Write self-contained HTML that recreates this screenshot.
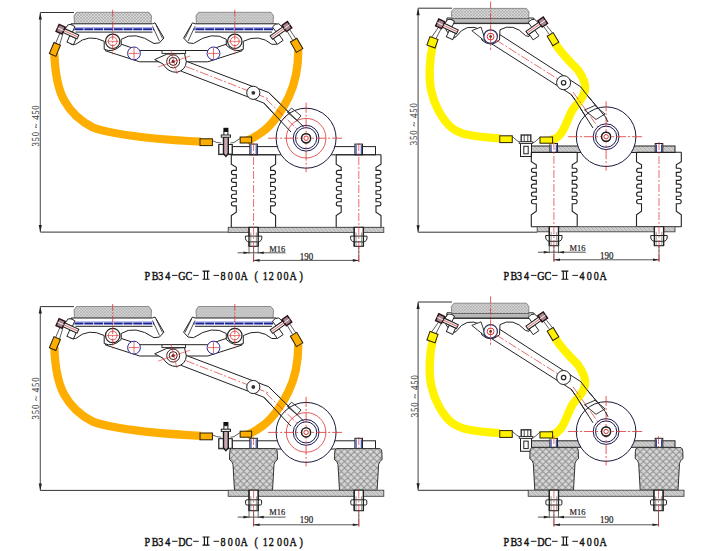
<!DOCTYPE html>
<html><head><meta charset="utf-8"><style>
html,body{margin:0;padding:0;background:#fff;}
svg{display:block;}
</style></head><body>
<svg width="703" height="551" viewBox="0 0 703 551">
<defs>
<pattern id="xh" width="3" height="3" patternUnits="userSpaceOnUse">
<rect width="3" height="3" fill="#d6d6d6"/>
<path d="M0,3 L3,0 M0,0 L3,3" stroke="#9c9c9c" stroke-width="0.5"/>
</pattern>
<pattern id="xh2" width="6.5" height="6.5" patternUnits="userSpaceOnUse">
<rect width="6.5" height="6.5" fill="#d6d6d6"/>
<path d="M0,6.5 L6.5,0 M0,0 L6.5,6.5 M-1,1 L1,-1 M5.5,7.5 L7.5,5.5" stroke="#8e8e8e" stroke-width="1"/>
</pattern>
<pattern id="bh" width="4" height="4" patternUnits="userSpaceOnUse">
<rect width="4" height="4" fill="#cdcdcd"/>
<path d="M0,0 L4,4" stroke="#a0a0a0" stroke-width="0.6"/>
</pattern>
</defs>
<rect width="703" height="551" fill="#fff"/>
<g id="tlu"><rect x="232.2" y="146.6" width="143.3" height="8.2" fill="#fff" stroke="#222" stroke-width="1"/>
<rect x="249.8" y="144.1" width="7.6" height="10.7" fill="#fff" stroke="#222" stroke-width="1"/>
<line x1="251" y1="145.1" x2="251" y2="154.8" stroke="#1C2CA8" stroke-width="1"/>
<line x1="256.2" y1="145.1" x2="256.2" y2="154.8" stroke="#1C2CA8" stroke-width="1"/>
<rect x="354.9" y="144.1" width="7.6" height="10.7" fill="#fff" stroke="#222" stroke-width="1"/>
<line x1="356.1" y1="145.1" x2="356.1" y2="154.8" stroke="#1C2CA8" stroke-width="1"/>
<line x1="361.3" y1="145.1" x2="361.3" y2="154.8" stroke="#1C2CA8" stroke-width="1"/>
<polygon points="105.5,50.8 139.7,61.8 207.8,61.8 242,50.8 242,44 226.3,44.2 207.8,50.5 139.7,50.5 121.2,44.2 105.5,44" fill="#fff" stroke="#222" stroke-width="1"/>
<rect x="162" y="50.5" width="23.6" height="2.9" fill="#fff" stroke="#222" stroke-width="0.9"/>
<polygon points="181.2,71.2 263.8,103 291,132 300,131 303.6,126.8 268.6,92.5 186.3,61.3" fill="#fff" stroke="#222" stroke-width="1"/>
<path d="M74.5,25 L74,15.8 L76.5,12.3 L149,12.3 L151.5,15.8 L151,25 Z" fill="url(#xh)" stroke="#777" stroke-width="0.8"/>
<path d="M71,23.8 152.5,23.8 155,22.8 163.9,38 159.5,42.8 154,43.5 Q134.7,30.3 121.2,39.3 L121.2,45.3 Q112.7,53.3 104.2,49.3 L104.2,41.3 Q88.7,33.3 75.7,44.3 L71,44.3 Z" fill="#fff" stroke="#222" stroke-width="1"/>
<path d="M152.5,26.3 L159.5,41.3 M156,24.8 L162.5,38.3" stroke="#222" stroke-width="0.8" fill="none"/>
<line x1="73" y1="27.6" x2="153.5" y2="27.6" stroke="#7b84d8" stroke-width="0.7"/>
<line x1="74.5" y1="29.3" x2="154" y2="29.3" stroke="#1a2298" stroke-width="1.9" stroke-dasharray="9 0.8"/>
<line x1="75.5" y1="32.1" x2="152.5" y2="32.1" stroke="#222" stroke-width="1"/>
<circle cx="112.7" cy="41.3" r="7.2" fill="#fff" stroke="#222" stroke-width="1.2"/>
<circle cx="112.7" cy="41.3" r="4.4" fill="none" stroke="#E03030" stroke-width="0.8"/>
<line x1="106.7" y1="41.3" x2="118.7" y2="41.3" stroke="#E03030" stroke-width="0.6"/>
<line x1="112.7" y1="9.8" x2="112.7" y2="55.3" stroke="#E03030" stroke-width="0.8" stroke-dasharray="7 1.5 1.5 1.5"/>
<g transform="translate(347.5,0) scale(-1,1)"><path d="M74.5,25 L74,15.8 L76.5,12.3 L149,12.3 L151.5,15.8 L151,25 Z" fill="url(#xh)" stroke="#777" stroke-width="0.8"/>
<path d="M71,23.8 152.5,23.8 155,22.8 163.9,38 159.5,42.8 154,43.5 Q134.7,30.3 121.2,39.3 L121.2,45.3 Q112.7,53.3 104.2,49.3 L104.2,41.3 Q88.7,33.3 75.7,44.3 L71,44.3 Z" fill="#fff" stroke="#222" stroke-width="1"/>
<path d="M152.5,26.3 L159.5,41.3 M156,24.8 L162.5,38.3" stroke="#222" stroke-width="0.8" fill="none"/>
<line x1="73" y1="27.6" x2="153.5" y2="27.6" stroke="#7b84d8" stroke-width="0.7"/>
<line x1="74.5" y1="29.3" x2="154" y2="29.3" stroke="#1a2298" stroke-width="1.9" stroke-dasharray="9 0.8"/>
<line x1="75.5" y1="32.1" x2="152.5" y2="32.1" stroke="#222" stroke-width="1"/>
<circle cx="112.7" cy="41.3" r="7.2" fill="#fff" stroke="#222" stroke-width="1.2"/>
<circle cx="112.7" cy="41.3" r="4.4" fill="none" stroke="#E03030" stroke-width="0.8"/>
<line x1="106.7" y1="41.3" x2="118.7" y2="41.3" stroke="#E03030" stroke-width="0.6"/>
<line x1="112.7" y1="9.8" x2="112.7" y2="55.3" stroke="#E03030" stroke-width="0.8" stroke-dasharray="7 1.5 1.5 1.5"/></g>
<circle cx="134" cy="53.4" r="6.4" fill="#fff" stroke="#2a2a9a" stroke-width="1"/>
<path d="M128.5,53.4 h11 M134,47.5 v11.8" stroke="#E03030" stroke-width="0.7"/>
<circle cx="213.5" cy="53.4" r="6.4" fill="#fff" stroke="#2a2a9a" stroke-width="1"/>
<path d="M208.0,53.4 h11 M213.5,47.5 v11.8" stroke="#E03030" stroke-width="0.7"/>
<g transform="translate(60.6,29.2) rotate(24)"><path d="M4,-2.1 L5,-7 Q8,-9.5 12,-8 L12,-2.1 Z" fill="#fff" stroke="#222" stroke-width="0.9"/><rect x="11" y="2.1" width="7" height="7" fill="#fff" stroke="#222" stroke-width="0.9"/><rect x="3" y="-2.1" width="16" height="4.2" fill="#f4eef0" stroke="#222" stroke-width="1"/><line x1="2" y1="0" x2="19" y2="0" stroke="#E03030" stroke-width="0.6"/><rect x="-3.3" y="-3.8" width="6.6" height="7.6" fill="#a88890" stroke="#2a1015" stroke-width="1.4"/><line x1="-3.3" y1="0" x2="3.3" y2="0" stroke="#fff" stroke-width="0.8"/></g>
<g transform="translate(286.9,26.6) rotate(145) scale(1,-1)"><path d="M4,-2.1 L5,-7 Q8,-9.5 12,-8 L12,-2.1 Z" fill="#fff" stroke="#222" stroke-width="0.9"/><rect x="11" y="2.1" width="7" height="7" fill="#fff" stroke="#222" stroke-width="0.9"/><rect x="3" y="-2.1" width="16" height="4.2" fill="#f4eef0" stroke="#222" stroke-width="1"/><line x1="2" y1="0" x2="19" y2="0" stroke="#E03030" stroke-width="0.6"/><rect x="-3.3" y="-3.8" width="6.6" height="7.6" fill="#a88890" stroke="#2a1015" stroke-width="1.4"/><line x1="-3.3" y1="0" x2="3.3" y2="0" stroke="#fff" stroke-width="0.8"/></g>
<path d="M60,33 L55.5,43.5 M63,33.5 L59.5,45" stroke="#333" stroke-width="0.8" fill="none"/>
<path d="M287,31 L292.5,40 M290,30 L296,39" stroke="#333" stroke-width="0.8" fill="none"/>
<path d="M54.3,53 C55,72 57.5,88 64,100 C70,111 80,121 93,127.5 C103,131.5 120,134.5 145,137.5 C165,139.5 185,141 201,141.6" fill="none" stroke="#FDAE00" stroke-width="8.3"/>
<path d="M298.3,50 C298.3,68 294,86 288.6,97.2 C283,109 273,124 262.9,131.5 C258,135 253,138.5 247,140.5" fill="none" stroke="#FDAE00" stroke-width="8.3"/>
<rect x="-3.5" y="-6" width="7" height="12" transform="translate(54.9,49.4) rotate(22.5)" fill="#FDAE00" stroke="#2a2000" stroke-width="1"/>
<rect x="-3.75" y="-6" width="7.5" height="12" transform="translate(296.6,45.3) rotate(-30)" fill="#FDAE00" stroke="#2a2000" stroke-width="1"/>
<path d="M154.7,59.6 L166.7,54.2 L184.5,53.5 L186.3,61.5 Q186,70 177,72.3 Q168,72.5 163,64 Z" fill="#fff" stroke="#222" stroke-width="1"/>
<circle cx="173.2" cy="61.4" r="6.5" fill="#fff" stroke="#402020" stroke-width="1"/>
<circle cx="173.2" cy="61.4" r="4" fill="none" stroke="#402020" stroke-width="1"/>
<circle cx="173.2" cy="61.4" r="1.6" fill="#402020"/>
<path d="M158,67 L190,56 M171,50 L177,74" stroke="#E03030" stroke-width="0.6"/>
<line x1="186" y1="66.5" x2="268" y2="98.5" stroke="#E03030" stroke-width="0.7" stroke-dasharray="9 2 2 2"/>
<circle cx="306.1" cy="138.2" r="30" fill="#fff" stroke="#1a1a3a" stroke-width="1"/>
<circle cx="306.1" cy="138.2" r="19.8" fill="none" stroke="#E03030" stroke-width="0.8"/>
<circle cx="306.1" cy="138.2" r="12.9" fill="none" stroke="#1a1a50" stroke-width="1"/>
<circle cx="306.1" cy="138.2" r="10.6" fill="none" stroke="#1a1a50" stroke-width="1"/>
<circle cx="306.1" cy="138.2" r="4.5" fill="#fff" stroke="#222" stroke-width="1.4"/>
<circle cx="306.1" cy="138.2" r="2.2" fill="none" stroke="#E03030" stroke-width="1"/>
<line x1="268.1" y1="138.2" x2="342.1" y2="138.2" stroke="#E03030" stroke-width="0.8" stroke-dasharray="10 2 2 2"/>
<line x1="306.1" y1="102.7" x2="306.1" y2="172.2" stroke="#E03030" stroke-width="0.8" stroke-dasharray="10 2 2 2"/>
<polyline points="263.8,103 291,132" fill="none" stroke="#222" stroke-width="1"/>
<polyline points="268.6,92.5 303.6,126.8" fill="none" stroke="#222" stroke-width="1"/>
<line x1="266" y1="99" x2="298" y2="130" stroke="#E03030" stroke-width="0.7" stroke-dasharray="9 2 2 2"/>
<polygon points="291.5,108 301,115.8 297,120.5 287.5,112.5" fill="none" stroke="#222" stroke-width="0.9"/>
<circle cx="306.1" cy="138.2" r="4.5" fill="#fff" stroke="#222" stroke-width="1.4"/>
<circle cx="306.1" cy="138.2" r="2.2" fill="none" stroke="#E03030" stroke-width="1"/>
<circle cx="253.3" cy="92.8" r="6.6" fill="#fff" stroke="#222" stroke-width="1"/>
<circle cx="253.3" cy="92.8" r="1.9" fill="#333"/>
<rect x="218.8" y="144.8" width="13.4" height="9.8" fill="#fff" stroke="#222" stroke-width="1"/>
<rect x="218.9" y="144.5" width="13.2" height="9.6" fill="#fff" stroke="#222" stroke-width="1"/>
<path d="M223.5,137 228.3,137 228.3,153.5 225.9,156.5 223.5,153.5 Z" fill="#c9a9b0" stroke="#1a1a1a" stroke-width="1.4"/>
<rect x="223.9" y="131.5" width="4" height="4" fill="#fff" stroke="#222" stroke-width="1"/>
<rect x="223.4" y="127.8" width="5" height="3.6" fill="#111"/>
<rect x="221.3" y="135" width="9.2" height="2.2" fill="#fff" stroke="#222" stroke-width="1"/>
<path d="M211.9,140.5 216.9,142.5 221.4,143 M239.9,138.5 233.9,142.5 230.4,143" stroke="#333" stroke-width="0.8" fill="none"/>
<rect x="-6.2" y="-3.4" width="12.4" height="6.8" transform="translate(206.2,142.2) rotate(0)" fill="#FDAE00" stroke="#2a2000" stroke-width="1"/>
<rect x="-5.75" y="-3" width="11.5" height="6" transform="translate(245.9,140) rotate(0)" fill="#FDAE00" stroke="#2a2000" stroke-width="1"/></g>
<line x1="40.3" y1="12.5" x2="74" y2="12.5" stroke="#333" stroke-width="1"/>
<line x1="40.3" y1="232.1" x2="228.2" y2="232.1" stroke="#333" stroke-width="1"/>
<line x1="40.3" y1="12.5" x2="40.3" y2="232.1" stroke="#555" stroke-width="1.1"/>
<path d="M40.3,12.5 l-1.6,7 l3.2,0 Z M40.3,232.1 l-1.6,-7 l3.2,0 Z" fill="#222"/>
<text transform="translate(39.1,146.6) rotate(-90) scale(0.8,1)" x="0" y="0" font-size="10.8" font-family="Liberation Serif, serif" fill="#444" stroke="#444" stroke-width="0.15" textLength="51.62" lengthAdjust="spacing">350 ~ 450</text>
<path d="M231.3,154.8 L231.3,164.3 L236.3,167.3 L236.3,170.4 L233.2,170.4 Q231.4,170.4 231.4,172.5 Q231.4,174.6 233.2,174.6 L236.3,174.6 L236.3,178.2 L233.2,178.2 Q231.4,178.2 231.4,180.3 Q231.4,182.4 233.2,182.4 L236.3,182.4 L236.3,186.5 L233.2,186.5 Q231.4,186.5 231.4,188.6 Q231.4,190.7 233.2,190.7 L236.3,190.7 L236.3,194.3 L233.2,194.3 Q231.4,194.3 231.4,196.4 Q231.4,198.5 233.2,198.5 L236.3,198.5 L236.3,201.7 L233.2,201.7 Q231.4,201.7 231.4,203.8 Q231.4,205.9 233.2,205.9 L236.3,205.9 L236.3,212.1 L231.3,215.6 L231.3,227.6" fill="none" stroke="#222" stroke-width="1.1"/><path d="M275.6,154.8 L275.6,164.3 L270.6,167.3 L270.6,170.4 L273.7,170.4 Q275.5,170.4 275.5,172.5 Q275.5,174.6 273.7,174.6 L270.6,174.6 L270.6,178.2 L273.7,178.2 Q275.5,178.2 275.5,180.3 Q275.5,182.4 273.7,182.4 L270.6,182.4 L270.6,186.5 L273.7,186.5 Q275.5,186.5 275.5,188.6 Q275.5,190.7 273.7,190.7 L270.6,190.7 L270.6,194.3 L273.7,194.3 Q275.5,194.3 275.5,196.4 Q275.5,198.5 273.7,198.5 L270.6,198.5 L270.6,201.7 L273.7,201.7 Q275.5,201.7 275.5,203.8 Q275.5,205.9 273.7,205.9 L270.6,205.9 L270.6,212.1 L275.6,215.6 L275.6,227.6" fill="none" stroke="#222" stroke-width="1.1"/><path d="M231.3,154.8 L275.6,154.8 M231.3,227.6 L275.6,227.6" fill="none" stroke="#222" stroke-width="1.1"/>
<path d="M336.2,154.8 L336.2,164.3 L341.2,167.3 L341.2,170.4 L338.1,170.4 Q336.3,170.4 336.3,172.5 Q336.3,174.6 338.1,174.6 L341.2,174.6 L341.2,178.2 L338.1,178.2 Q336.3,178.2 336.3,180.3 Q336.3,182.4 338.1,182.4 L341.2,182.4 L341.2,186.5 L338.1,186.5 Q336.3,186.5 336.3,188.6 Q336.3,190.7 338.1,190.7 L341.2,190.7 L341.2,194.3 L338.1,194.3 Q336.3,194.3 336.3,196.4 Q336.3,198.5 338.1,198.5 L341.2,198.5 L341.2,201.7 L338.1,201.7 Q336.3,201.7 336.3,203.8 Q336.3,205.9 338.1,205.9 L341.2,205.9 L341.2,212.1 L336.2,215.6 L336.2,227.6" fill="none" stroke="#222" stroke-width="1.1"/><path d="M381,154.8 L381,164.3 L376,167.3 L376,170.4 L379.1,170.4 Q380.9,170.4 380.9,172.5 Q380.9,174.6 379.1,174.6 L376,174.6 L376,178.2 L379.1,178.2 Q380.9,178.2 380.9,180.3 Q380.9,182.4 379.1,182.4 L376,182.4 L376,186.5 L379.1,186.5 Q380.9,186.5 380.9,188.6 Q380.9,190.7 379.1,190.7 L376,190.7 L376,194.3 L379.1,194.3 Q380.9,194.3 380.9,196.4 Q380.9,198.5 379.1,198.5 L376,198.5 L376,201.7 L379.1,201.7 Q380.9,201.7 380.9,203.8 Q380.9,205.9 379.1,205.9 L376,205.9 L376,212.1 L381,215.6 L381,227.6" fill="none" stroke="#222" stroke-width="1.1"/><path d="M336.2,154.8 L381,154.8 M336.2,227.6 L381,227.6" fill="none" stroke="#222" stroke-width="1.1"/>
<rect x="228.2" y="227.3" width="155.6" height="5.1" fill="url(#bh)" stroke="#444" stroke-width="0.9"/>
<rect x="249" y="227.3" width="9.2" height="19" fill="#fff" stroke="#222" stroke-width="1.1"/>
<path d="M245.4,236.1 L261.8,236.1 Q262.4,241.9 257.6,241.9 L249.6,241.9 Q244.8,241.9 245.4,236.1 Z" fill="#fff" stroke="#222" stroke-width="1"/>
<line x1="249" y1="227.3" x2="249" y2="246.3" stroke="#222" stroke-width="1.3"/>
<line x1="258.2" y1="227.3" x2="258.2" y2="246.3" stroke="#222" stroke-width="1.3"/>
<line x1="250.8" y1="232.4" x2="250.8" y2="246.3" stroke="#555" stroke-width="0.6"/>
<line x1="256.4" y1="232.4" x2="256.4" y2="246.3" stroke="#555" stroke-width="0.6"/>
<rect x="354.2" y="227.3" width="9.2" height="19" fill="#fff" stroke="#222" stroke-width="1.1"/>
<path d="M350.6,236.1 L367,236.1 Q367.6,241.9 362.8,241.9 L354.8,241.9 Q350,241.9 350.6,236.1 Z" fill="#fff" stroke="#222" stroke-width="1"/>
<line x1="354.2" y1="227.3" x2="354.2" y2="246.3" stroke="#222" stroke-width="1.3"/>
<line x1="363.4" y1="227.3" x2="363.4" y2="246.3" stroke="#222" stroke-width="1.3"/>
<line x1="356" y1="232.4" x2="356" y2="246.3" stroke="#555" stroke-width="0.6"/>
<line x1="361.6" y1="232.4" x2="361.6" y2="246.3" stroke="#555" stroke-width="0.6"/>
<line x1="237.6" y1="252.8" x2="285.6" y2="252.8" stroke="#444" stroke-width="0.9"/>
<line x1="249" y1="246.3" x2="249" y2="253.8" stroke="#444" stroke-width="0.8"/>
<line x1="258.2" y1="246.3" x2="258.2" y2="253.8" stroke="#444" stroke-width="0.8"/>
<path d="M249,252.8 l-5.5,-1.3 l0,2.6 Z M258.2,252.8 l5.5,-1.3 l0,2.6 Z" fill="#222"/>
<g transform="translate(269.2,251.5) scale(0.92,1)"><text x="0" y="0" font-size="9.2" font-family="Liberation Serif, serif" fill="#222" stroke="#222" stroke-width="0.2" >M16</text></g>
<line x1="253.6" y1="246.3" x2="253.6" y2="261.9" stroke="#444" stroke-width="0.8"/>
<line x1="358.8" y1="246.3" x2="358.8" y2="261.9" stroke="#444" stroke-width="0.8"/>
<line x1="253.6" y1="260.4" x2="358.8" y2="260.4" stroke="#444" stroke-width="0.9"/>
<path d="M253.6,260.4 l6,-1.3 l0,2.6 Z M358.8,260.4 l-6,-1.3 l0,2.6 Z" fill="#222"/>
<g transform="translate(299.8,259.8) scale(0.95,1)"><text x="0" y="0" font-size="9.4" font-family="Liberation Serif, serif" fill="#222" stroke="#222" stroke-width="0.2" >190</text></g>
<line x1="172" y1="275.4" x2="177.6" y2="275.4" stroke="#1a1a1a" stroke-width="1"/>
<line x1="193.1" y1="275.4" x2="198.7" y2="275.4" stroke="#1a1a1a" stroke-width="1"/>
<path d="M202.5,271.1 h7 M202.5,279.2 h7 M204.4,271.1 v8.1 M207.6,271.1 v8.1" stroke="#111" stroke-width="1.15" fill="none"/>
<line x1="213.5" y1="275.4" x2="219.1" y2="275.4" stroke="#1a1a1a" stroke-width="1"/>
<g transform="translate(0,279.7) scale(0.8,1)"><text x="180.62 189.62 197.75 206.5 222.88 231.88 275.62 284.75 293.62 300.75 318.12 328.37 335.87 346.12 354.38 361.88 374.25" y="0" font-size="12.6" font-family="Liberation Serif, serif" fill="#111" stroke="#111" stroke-width="0.45">PB34GC800A(1200A)</text></g>
<line x1="253.6" y1="143" x2="253.6" y2="262" stroke="#E03030" stroke-width="0.7" stroke-dasharray="8 2 2 2"/>
<line x1="358.8" y1="143" x2="358.8" y2="262" stroke="#E03030" stroke-width="0.7" stroke-dasharray="8 2 2 2"/>
<use href="#tlu" transform="translate(0,294.2)"/>
<line x1="40.3" y1="306.6" x2="74" y2="306.6" stroke="#333" stroke-width="1"/>
<line x1="40.3" y1="490.4" x2="228.2" y2="490.4" stroke="#333" stroke-width="1"/>
<line x1="40.3" y1="306.6" x2="40.3" y2="490.4" stroke="#555" stroke-width="1.1"/>
<path d="M40.3,306.6 l-1.6,7 l3.2,0 Z M40.3,490.4 l-1.6,-7 l3.2,0 Z" fill="#222"/>
<text transform="translate(38.8,419.4) rotate(-90) scale(0.8,1)" x="0" y="0" font-size="10.8" font-family="Liberation Serif, serif" fill="#444" stroke="#444" stroke-width="0.15" textLength="52.5" lengthAdjust="spacing">350 ~ 450</text>
<line x1="253.6" y1="437" x2="253.6" y2="450" stroke="#E03030" stroke-width="0.7" stroke-dasharray="8 2 2 2"/>
<line x1="358.8" y1="437" x2="358.8" y2="450" stroke="#E03030" stroke-width="0.7" stroke-dasharray="8 2 2 2"/>
<path d="M231.5,448.6 L275.5,448.6 Q277.5,449.6 277.3,452.6 L277.5,459.6 Q274.5,461.1 274,464.6 L272.5,490.4 L234.5,490.4 L233,464.6 Q232.5,461.1 229.5,459.6 L229.7,452.6 Q229.5,449.6 231.5,448.6 Z" fill="url(#xh2)" stroke="#333" stroke-width="1"/>
<path d="M336.5,448.6 L380.1,448.6 Q382.1,449.6 381.90000000000003,452.6 L382.1,459.6 Q379.1,461.1 378.6,464.6 L377.1,490.4 L339.5,490.4 L338,464.6 Q337.5,461.1 334.5,459.6 L334.7,452.6 Q334.5,449.6 336.5,448.6 Z" fill="url(#xh2)" stroke="#333" stroke-width="1"/>
<rect x="228.2" y="490.2" width="155.6" height="6.1" fill="url(#bh)" stroke="#444" stroke-width="0.9"/>
<rect x="249" y="490.2" width="9.2" height="20.5" fill="#fff" stroke="#222" stroke-width="1.1"/>
<rect x="245.6" y="499.8" width="16" height="5.2" rx="1.2" fill="#fff" stroke="#222" stroke-width="1"/>
<line x1="249" y1="490.2" x2="249" y2="510.7" stroke="#222" stroke-width="1.3"/>
<line x1="258.2" y1="490.2" x2="258.2" y2="510.7" stroke="#222" stroke-width="1.3"/>
<line x1="250.8" y1="496.3" x2="250.8" y2="510.7" stroke="#555" stroke-width="0.6"/>
<line x1="256.4" y1="496.3" x2="256.4" y2="510.7" stroke="#555" stroke-width="0.6"/>
<rect x="354.2" y="490.2" width="9.2" height="20.5" fill="#fff" stroke="#222" stroke-width="1.1"/>
<rect x="350.8" y="499.8" width="16" height="5.2" rx="1.2" fill="#fff" stroke="#222" stroke-width="1"/>
<line x1="354.2" y1="490.2" x2="354.2" y2="510.7" stroke="#222" stroke-width="1.3"/>
<line x1="363.4" y1="490.2" x2="363.4" y2="510.7" stroke="#222" stroke-width="1.3"/>
<line x1="356" y1="496.3" x2="356" y2="510.7" stroke="#555" stroke-width="0.6"/>
<line x1="361.6" y1="496.3" x2="361.6" y2="510.7" stroke="#555" stroke-width="0.6"/>
<line x1="237.6" y1="517.1" x2="285.6" y2="517.1" stroke="#444" stroke-width="0.9"/>
<line x1="249" y1="510.7" x2="249" y2="518.1" stroke="#444" stroke-width="0.8"/>
<line x1="258.2" y1="510.7" x2="258.2" y2="518.1" stroke="#444" stroke-width="0.8"/>
<path d="M249,517.1 l-5.5,-1.3 l0,2.6 Z M258.2,517.1 l5.5,-1.3 l0,2.6 Z" fill="#222"/>
<g transform="translate(269.2,515.2) scale(0.92,1)"><text x="0" y="0" font-size="9.2" font-family="Liberation Serif, serif" fill="#222" stroke="#222" stroke-width="0.2" >M16</text></g>
<line x1="253.6" y1="510.7" x2="253.6" y2="526.3" stroke="#444" stroke-width="0.8"/>
<line x1="358.8" y1="510.7" x2="358.8" y2="526.3" stroke="#444" stroke-width="0.8"/>
<line x1="253.6" y1="524.8" x2="358.8" y2="524.8" stroke="#444" stroke-width="0.9"/>
<path d="M253.6,524.8 l6,-1.3 l0,2.6 Z M358.8,524.8 l-6,-1.3 l0,2.6 Z" fill="#222"/>
<g transform="translate(299.8,523) scale(0.95,1)"><text x="0" y="0" font-size="9.4" font-family="Liberation Serif, serif" fill="#222" stroke="#222" stroke-width="0.2" >190</text></g>
<line x1="172" y1="541.3" x2="177.6" y2="541.3" stroke="#1a1a1a" stroke-width="1"/>
<line x1="193.1" y1="541.3" x2="198.7" y2="541.3" stroke="#1a1a1a" stroke-width="1"/>
<path d="M202.5,537 h7 M202.5,545.1 h7 M204.4,537 v8.1 M207.6,537 v8.1" stroke="#111" stroke-width="1.15" fill="none"/>
<line x1="213.5" y1="541.3" x2="219.1" y2="541.3" stroke="#1a1a1a" stroke-width="1"/>
<g transform="translate(0,545.6) scale(0.8,1)"><text x="180.62 189.62 197.75 206.5 222.88 231.88 275.62 284.75 293.62 300.75 318.12 328.37 335.87 346.12 354.38 361.88 374.25" y="0" font-size="12.6" font-family="Liberation Serif, serif" fill="#111" stroke="#111" stroke-width="0.45">PB34DC800A(1200A)</text></g>
<line x1="253.6" y1="490.5" x2="253.6" y2="527" stroke="#E03030" stroke-width="0.7" stroke-dasharray="8 2 2 2"/>
<line x1="358.8" y1="490.5" x2="358.8" y2="527" stroke="#E03030" stroke-width="0.7" stroke-dasharray="8 2 2 2"/>
<g id="tru"><rect x="529.6" y="146" width="145.4" height="6.5" fill="url(#bh)" stroke="#222" stroke-width="1"/>
<rect x="549.9" y="143.5" width="7.6" height="9" fill="#fff" stroke="#222" stroke-width="1"/>
<line x1="551.1" y1="144.5" x2="551.1" y2="152.5" stroke="#1C2CA8" stroke-width="1"/>
<line x1="556.3" y1="144.5" x2="556.3" y2="152.5" stroke="#1C2CA8" stroke-width="1"/>
<rect x="655.2" y="143.5" width="7.6" height="9" fill="#fff" stroke="#222" stroke-width="1"/>
<line x1="656.4" y1="144.5" x2="656.4" y2="152.5" stroke="#1C2CA8" stroke-width="1"/>
<line x1="661.6" y1="144.5" x2="661.6" y2="152.5" stroke="#1C2CA8" stroke-width="1"/>
<polygon points="493.5,30.5 580.7,86.8 586.6,94.5 605.4,116.9 608,122 600,130 593,128 588.9,121.6 575.4,100.4 571.2,94.5 487.7,41.3" fill="#fff" stroke="#222" stroke-width="1"/>
<path d="M447,18 533.5,18 536,24 529,36.5 525.6,35.7 Q513,22 500,29.8 L499.5,40 Q490.6,48 481.7,40 L481.2,29.8 Q466,22 456,36.8 L452.2,38.3 446,30 Z" fill="#fff" stroke="#222" stroke-width="1"/>
<path d="M451.8,18.7 451.3,11.9 453.8,8.4 526.5,8.4 529,11.9 528.5,18.7 Z" fill="url(#xh)" stroke="#777" stroke-width="0.8"/>
<rect x="451.3" y="18.700000000000003" width="77.7" height="4.2" fill="#b9b9b9" stroke="#555" stroke-width="0.7"/>
<line x1="450.3" y1="23.6" x2="530" y2="23.6" stroke="#222" stroke-width="1"/>
<polygon points="471.8,30.6 481,27 486,42" fill="#fff" stroke="#222" stroke-width="0.9"/>
<g transform="translate(440.2,23.8) rotate(25)"><path d="M4,-2.1 L5,-7 Q8,-9.5 12,-8 L12,-2.1 Z" fill="#fff" stroke="#222" stroke-width="0.9"/><rect x="11" y="2.1" width="7" height="7" fill="#fff" stroke="#222" stroke-width="0.9"/><rect x="3" y="-2.1" width="16" height="4.2" fill="#f4eef0" stroke="#222" stroke-width="1"/><line x1="2" y1="0" x2="19" y2="0" stroke="#E03030" stroke-width="0.6"/><rect x="-3.3" y="-3.8" width="6.6" height="7.6" fill="#a88890" stroke="#2a1015" stroke-width="1.4"/><line x1="-3.3" y1="0" x2="3.3" y2="0" stroke="#fff" stroke-width="0.8"/></g>
<g transform="translate(542.7,22.1) rotate(145) scale(1,-1)"><path d="M4,-2.1 L5,-7 Q8,-9.5 12,-8 L12,-2.1 Z" fill="#fff" stroke="#222" stroke-width="0.9"/><rect x="11" y="2.1" width="7" height="7" fill="#fff" stroke="#222" stroke-width="0.9"/><rect x="3" y="-2.1" width="16" height="4.2" fill="#f4eef0" stroke="#222" stroke-width="1"/><line x1="2" y1="0" x2="19" y2="0" stroke="#E03030" stroke-width="0.6"/><rect x="-3.3" y="-3.8" width="6.6" height="7.6" fill="#a88890" stroke="#2a1015" stroke-width="1.4"/><line x1="-3.3" y1="0" x2="3.3" y2="0" stroke="#fff" stroke-width="0.8"/></g>
<path d="M438,28 L431,38 M441,29 L435.5,39.5" stroke="#333" stroke-width="0.8" fill="none"/>
<path d="M544,27 L549,34 M546.5,25.5 L552.5,33" stroke="#333" stroke-width="0.8" fill="none"/>
<circle cx="490.6" cy="36.6" r="6.8" fill="#fff" stroke="#303060" stroke-width="1.2"/>
<circle cx="490.6" cy="36.6" r="3.4" fill="none" stroke="#E03030" stroke-width="1"/>
<circle cx="490.6" cy="36.6" r="1.3" fill="#222"/>
<line x1="490.6" y1="1.5" x2="490.6" y2="50" stroke="#E03030" stroke-width="0.8" stroke-dasharray="7 1.5 1.5 1.5"/>
<line x1="496" y1="40" x2="572" y2="88" stroke="#E03030" stroke-width="0.7" stroke-dasharray="9 2 2 2"/>
<path d="M433,44 C429.5,58 428.5,78 431.3,91 C434,104 442,120 452,128 C460,134 470,136.5 500,138.4" fill="none" stroke="#FFF300" stroke-width="8.3"/>
<path d="M555,43 C560,52 570,62 578,70 C583,77 586,84 585,90 C584,98 577,104 573.3,108.6 C569,115 566,126 561.9,132.2 C559,137 555,140 549,140.3" fill="none" stroke="#FFF300" stroke-width="8.3"/>
<rect x="-4.3" y="-4.5" width="8.6" height="9" transform="translate(432.5,42.3) rotate(20)" fill="#FFF300" stroke="#2a2000" stroke-width="1"/>
<rect x="-3.5" y="-5.5" width="7" height="11" transform="translate(553,39.2) rotate(-31)" fill="#FFF300" stroke="#2a2000" stroke-width="1"/>
<circle cx="606.1" cy="136.7" r="29.8" fill="#fff" stroke="#1a1a3a" stroke-width="1"/>
<circle cx="606.1" cy="136.7" r="12.9" fill="none" stroke="#1a1a50" stroke-width="1"/>
<circle cx="606.1" cy="136.7" r="10.6" fill="none" stroke="#1a1a50" stroke-width="1"/>
<circle cx="606.1" cy="136.7" r="4.5" fill="#fff" stroke="#222" stroke-width="1.4"/>
<circle cx="606.1" cy="136.7" r="2.2" fill="none" stroke="#E03030" stroke-width="1"/>
<line x1="568.1" y1="136.7" x2="642.1" y2="136.7" stroke="#E03030" stroke-width="0.8" stroke-dasharray="10 2 2 2"/>
<line x1="606.1" y1="101.2" x2="606.1" y2="170.7" stroke="#E03030" stroke-width="0.8" stroke-dasharray="10 2 2 2"/>
<polyline points="580.7,86.8 586.6,94.5 605.4,116.9 608,122" fill="none" stroke="#222" stroke-width="1"/>
<polyline points="571.2,94.5 575.4,100.4 588.9,121.6 593,128" fill="none" stroke="#222" stroke-width="1"/>
<line x1="573" y1="92" x2="600" y2="130" stroke="#E03030" stroke-width="0.7" stroke-dasharray="9 2 2 2"/>
<polygon points="584.5,110 595,105.5 605,114 596,119.5" fill="none" stroke="#222" stroke-width="0.9"/>
<circle cx="606.1" cy="136.7" r="4.5" fill="#fff" stroke="#222" stroke-width="1.4"/>
<circle cx="606.1" cy="136.7" r="2.2" fill="none" stroke="#E03030" stroke-width="1"/>
<circle cx="563.6" cy="82.7" r="7" fill="#fff" stroke="#222" stroke-width="1"/>
<circle cx="563.6" cy="82.7" r="2.2" fill="none" stroke="#222" stroke-width="1.2"/>
<rect x="520.5" y="143.5" width="11" height="13" fill="#fff" stroke="#222" stroke-width="1"/>
<rect x="523.8" y="146.3" width="4.4" height="7.5" fill="#fff" stroke="#222" stroke-width="1"/>
<rect x="521.2" y="135" width="9.6" height="6.8" fill="#fff" stroke="#222" stroke-width="1.3"/>
<line x1="524.2" y1="135" x2="524.2" y2="141.8" stroke="#222" stroke-width="0.8"/>
<line x1="527.8" y1="135" x2="527.8" y2="141.8" stroke="#222" stroke-width="0.8"/>
<rect x="519.2" y="141.8" width="13.6" height="1.7" fill="#fff" stroke="#222" stroke-width="0.8"/>
<path d="M512,136.3 517,140.6 519.2,141.8 M540,137.3 535,141.8 532.8,142.8" stroke="#333" stroke-width="0.8" fill="none"/>
<rect x="-6.25" y="-3.4" width="12.5" height="6.8" transform="translate(506,139.2) rotate(0)" fill="#FFF300" stroke="#2a2000" stroke-width="1"/>
<rect x="-6.3" y="-3.1" width="12.6" height="6.2" transform="translate(546.3,140.1) rotate(0)" fill="#FFF300" stroke="#2a2000" stroke-width="1"/></g>
<line x1="418.1" y1="8.2" x2="452" y2="8.2" stroke="#333" stroke-width="1"/>
<line x1="418.1" y1="232.2" x2="537.2" y2="232.2" stroke="#333" stroke-width="1"/>
<line x1="418.1" y1="8.2" x2="418.1" y2="232.2" stroke="#555" stroke-width="1.1"/>
<path d="M418.1,8.2 l-1.6,7 l3.2,0 Z M418.1,232.2 l-1.6,-7 l3.2,0 Z" fill="#222"/>
<text transform="translate(417.4,145.2) rotate(-90) scale(0.8,1)" x="0" y="0" font-size="10.8" font-family="Liberation Serif, serif" fill="#444" stroke="#444" stroke-width="0.15" textLength="52.5" lengthAdjust="spacing">350 ~ 450</text>
<path d="M531.3,152.2 L531.3,161.7 L536.3,164.7 L536.3,168.2 L533.2,168.2 Q531.4,168.2 531.4,170.3 Q531.4,172.4 533.2,172.4 L536.3,172.4 L536.3,176.2 L533.2,176.2 Q531.4,176.2 531.4,178.3 Q531.4,180.4 533.2,180.4 L536.3,180.4 L536.3,184.1 L533.2,184.1 Q531.4,184.1 531.4,186.2 Q531.4,188.3 533.2,188.3 L536.3,188.3 L536.3,192.1 L533.2,192.1 Q531.4,192.1 531.4,194.2 Q531.4,196.3 533.2,196.3 L536.3,196.3 L536.3,199.5 L533.2,199.5 Q531.4,199.5 531.4,201.6 Q531.4,203.7 533.2,203.7 L536.3,203.7 L536.3,211.3 L531.3,214.8 L531.3,226.8" fill="none" stroke="#222" stroke-width="1.1"/><path d="M577.2,152.2 L577.2,161.7 L572.2,164.7 L572.2,168.2 L575.3,168.2 Q577.1,168.2 577.1,170.3 Q577.1,172.4 575.3,172.4 L572.2,172.4 L572.2,176.2 L575.3,176.2 Q577.1,176.2 577.1,178.3 Q577.1,180.4 575.3,180.4 L572.2,180.4 L572.2,184.1 L575.3,184.1 Q577.1,184.1 577.1,186.2 Q577.1,188.3 575.3,188.3 L572.2,188.3 L572.2,192.1 L575.3,192.1 Q577.1,192.1 577.1,194.2 Q577.1,196.3 575.3,196.3 L572.2,196.3 L572.2,199.5 L575.3,199.5 Q577.1,199.5 577.1,201.6 Q577.1,203.7 575.3,203.7 L572.2,203.7 L572.2,211.3 L577.2,214.8 L577.2,226.8" fill="none" stroke="#222" stroke-width="1.1"/><path d="M531.3,152.2 L577.2,152.2 M531.3,226.8 L577.2,226.8" fill="none" stroke="#222" stroke-width="1.1"/>
<path d="M636.5,152.2 L636.5,161.7 L641.5,164.7 L641.5,168.2 L638.4,168.2 Q636.6,168.2 636.6,170.3 Q636.6,172.4 638.4,172.4 L641.5,172.4 L641.5,176.2 L638.4,176.2 Q636.6,176.2 636.6,178.3 Q636.6,180.4 638.4,180.4 L641.5,180.4 L641.5,184.1 L638.4,184.1 Q636.6,184.1 636.6,186.2 Q636.6,188.3 638.4,188.3 L641.5,188.3 L641.5,192.1 L638.4,192.1 Q636.6,192.1 636.6,194.2 Q636.6,196.3 638.4,196.3 L641.5,196.3 L641.5,199.5 L638.4,199.5 Q636.6,199.5 636.6,201.6 Q636.6,203.7 638.4,203.7 L641.5,203.7 L641.5,211.3 L636.5,214.8 L636.5,226.8" fill="none" stroke="#222" stroke-width="1.1"/><path d="M681.3,152.2 L681.3,161.7 L676.3,164.7 L676.3,168.2 L679.4,168.2 Q681.2,168.2 681.2,170.3 Q681.2,172.4 679.4,172.4 L676.3,172.4 L676.3,176.2 L679.4,176.2 Q681.2,176.2 681.2,178.3 Q681.2,180.4 679.4,180.4 L676.3,180.4 L676.3,184.1 L679.4,184.1 Q681.2,184.1 681.2,186.2 Q681.2,188.3 679.4,188.3 L676.3,188.3 L676.3,192.1 L679.4,192.1 Q681.2,192.1 681.2,194.2 Q681.2,196.3 679.4,196.3 L676.3,196.3 L676.3,199.5 L679.4,199.5 Q681.2,199.5 681.2,201.6 Q681.2,203.7 679.4,203.7 L676.3,203.7 L676.3,211.3 L681.3,214.8 L681.3,226.8" fill="none" stroke="#222" stroke-width="1.1"/><path d="M636.5,152.2 L681.3,152.2 M636.5,226.8 L681.3,226.8" fill="none" stroke="#222" stroke-width="1.1"/>
<rect x="537.2" y="226.7" width="137.8" height="5.1" fill="url(#bh)" stroke="#444" stroke-width="0.9"/>
<rect x="549.3" y="226.7" width="9.2" height="19" fill="#fff" stroke="#222" stroke-width="1.1"/>
<path d="M545.7,235.5 L562.1,235.5 Q562.7,241.3 557.9,241.3 L549.9,241.3 Q545.1,241.3 545.7,235.5 Z" fill="#fff" stroke="#222" stroke-width="1"/>
<line x1="549.3" y1="226.7" x2="549.3" y2="245.7" stroke="#222" stroke-width="1.3"/>
<line x1="558.5" y1="226.7" x2="558.5" y2="245.7" stroke="#222" stroke-width="1.3"/>
<line x1="551.1" y1="231.8" x2="551.1" y2="245.7" stroke="#555" stroke-width="0.6"/>
<line x1="556.7" y1="231.8" x2="556.7" y2="245.7" stroke="#555" stroke-width="0.6"/>
<rect x="654.4" y="226.7" width="9.2" height="19" fill="#fff" stroke="#222" stroke-width="1.1"/>
<path d="M650.8,235.5 L667.2,235.5 Q667.8,241.3 663,241.3 L655,241.3 Q650.2,241.3 650.8,235.5 Z" fill="#fff" stroke="#222" stroke-width="1"/>
<line x1="654.4" y1="226.7" x2="654.4" y2="245.7" stroke="#222" stroke-width="1.3"/>
<line x1="663.6" y1="226.7" x2="663.6" y2="245.7" stroke="#222" stroke-width="1.3"/>
<line x1="656.2" y1="231.8" x2="656.2" y2="245.7" stroke="#555" stroke-width="0.6"/>
<line x1="661.8" y1="231.8" x2="661.8" y2="245.7" stroke="#555" stroke-width="0.6"/>
<line x1="537.9" y1="252.2" x2="585.9" y2="252.2" stroke="#444" stroke-width="0.9"/>
<line x1="549.3" y1="245.7" x2="549.3" y2="253.2" stroke="#444" stroke-width="0.8"/>
<line x1="558.5" y1="245.7" x2="558.5" y2="253.2" stroke="#444" stroke-width="0.8"/>
<path d="M549.3,252.2 l-5.5,-1.3 l0,2.6 Z M558.5,252.2 l5.5,-1.3 l0,2.6 Z" fill="#222"/>
<g transform="translate(569.5,250.9) scale(0.92,1)"><text x="0" y="0" font-size="9.2" font-family="Liberation Serif, serif" fill="#222" stroke="#222" stroke-width="0.2" >M16</text></g>
<line x1="553.9" y1="245.7" x2="553.9" y2="261.3" stroke="#444" stroke-width="0.8"/>
<line x1="659" y1="245.7" x2="659" y2="261.3" stroke="#444" stroke-width="0.8"/>
<line x1="553.9" y1="259.8" x2="659" y2="259.8" stroke="#444" stroke-width="0.9"/>
<path d="M553.9,259.8 l6,-1.3 l0,2.6 Z M659,259.8 l-6,-1.3 l0,2.6 Z" fill="#222"/>
<g transform="translate(600.1,259.2) scale(0.95,1)"><text x="0" y="0" font-size="9.4" font-family="Liberation Serif, serif" fill="#222" stroke="#222" stroke-width="0.2" >190</text></g>
<line x1="530.9" y1="275.4" x2="536.5" y2="275.4" stroke="#1a1a1a" stroke-width="1"/>
<line x1="552" y1="275.4" x2="557.6" y2="275.4" stroke="#1a1a1a" stroke-width="1"/>
<path d="M561.4,271.1 h7 M561.4,279.2 h7 M563.3,271.1 v8.1 M566.5,271.1 v8.1" stroke="#111" stroke-width="1.15" fill="none"/>
<line x1="572.4" y1="275.4" x2="578" y2="275.4" stroke="#1a1a1a" stroke-width="1"/>
<g transform="translate(0,279.7) scale(0.8,1)"><text x="629.25 638.25 646.38 655.12 671.5 680.5 724.25 733.38 742.25 749.38" y="0" font-size="12.6" font-family="Liberation Serif, serif" fill="#111" stroke="#111" stroke-width="0.45">PB34GC400A</text></g>
<line x1="553.9" y1="142" x2="553.9" y2="262" stroke="#E03030" stroke-width="0.7" stroke-dasharray="8 2 2 2"/>
<line x1="659" y1="142" x2="659" y2="262" stroke="#E03030" stroke-width="0.7" stroke-dasharray="8 2 2 2"/>
<use href="#tru" transform="translate(0,294.8)"/>
<line x1="418.1" y1="302" x2="452" y2="302" stroke="#333" stroke-width="1"/>
<line x1="418.1" y1="490.3" x2="528.2" y2="490.3" stroke="#333" stroke-width="1"/>
<line x1="418.1" y1="302" x2="418.1" y2="490.3" stroke="#555" stroke-width="1.1"/>
<path d="M418.1,302 l-1.6,7 l3.2,0 Z M418.1,490.3 l-1.6,-7 l3.2,0 Z" fill="#222"/>
<text transform="translate(417.6,417.2) rotate(-90) scale(0.8,1)" x="0" y="0" font-size="10.8" font-family="Liberation Serif, serif" fill="#444" stroke="#444" stroke-width="0.15" textLength="52.5" lengthAdjust="spacing">350 ~ 450</text>
<line x1="553.9" y1="436" x2="553.9" y2="449" stroke="#E03030" stroke-width="0.7" stroke-dasharray="8 2 2 2"/>
<line x1="658.5" y1="436" x2="658.5" y2="449" stroke="#E03030" stroke-width="0.7" stroke-dasharray="8 2 2 2"/>
<path d="M531.8,447.6 L576.5,447.6 Q578.5,448.6 578.3,451.6 L578.5,458.6 Q575.5,460.1 575,463.6 L573.5,490.1 L534.8,490.1 L533.3,463.6 Q532.8,460.1 529.8,458.6 L530.0,451.6 Q529.8,448.6 531.8,447.6 Z" fill="url(#xh2)" stroke="#333" stroke-width="1"/>
<path d="M637.2,447.6 L681.0,447.6 Q683.0,448.6 682.8,451.6 L683.0,458.6 Q680.0,460.1 679.5,463.6 L678.0,490.1 L640.2,490.1 L638.7,463.6 Q638.2,460.1 635.2,458.6 L635.4000000000001,451.6 Q635.2,448.6 637.2,447.6 Z" fill="url(#xh2)" stroke="#333" stroke-width="1"/>
<rect x="528.2" y="490.2" width="155.8" height="6.1" fill="url(#bh)" stroke="#444" stroke-width="0.9"/>
<rect x="549.3" y="490.2" width="9.2" height="20.5" fill="#fff" stroke="#222" stroke-width="1.1"/>
<rect x="545.9" y="499.8" width="16" height="5.2" rx="1.2" fill="#fff" stroke="#222" stroke-width="1"/>
<line x1="549.3" y1="490.2" x2="549.3" y2="510.7" stroke="#222" stroke-width="1.3"/>
<line x1="558.5" y1="490.2" x2="558.5" y2="510.7" stroke="#222" stroke-width="1.3"/>
<line x1="551.1" y1="496.3" x2="551.1" y2="510.7" stroke="#555" stroke-width="0.6"/>
<line x1="556.7" y1="496.3" x2="556.7" y2="510.7" stroke="#555" stroke-width="0.6"/>
<rect x="653.9" y="490.2" width="9.2" height="20.5" fill="#fff" stroke="#222" stroke-width="1.1"/>
<rect x="650.5" y="499.8" width="16" height="5.2" rx="1.2" fill="#fff" stroke="#222" stroke-width="1"/>
<line x1="653.9" y1="490.2" x2="653.9" y2="510.7" stroke="#222" stroke-width="1.3"/>
<line x1="663.1" y1="490.2" x2="663.1" y2="510.7" stroke="#222" stroke-width="1.3"/>
<line x1="655.7" y1="496.3" x2="655.7" y2="510.7" stroke="#555" stroke-width="0.6"/>
<line x1="661.3" y1="496.3" x2="661.3" y2="510.7" stroke="#555" stroke-width="0.6"/>
<line x1="537.9" y1="517.1" x2="585.9" y2="517.1" stroke="#444" stroke-width="0.9"/>
<line x1="549.3" y1="510.7" x2="549.3" y2="518.1" stroke="#444" stroke-width="0.8"/>
<line x1="558.5" y1="510.7" x2="558.5" y2="518.1" stroke="#444" stroke-width="0.8"/>
<path d="M549.3,517.1 l-5.5,-1.3 l0,2.6 Z M558.5,517.1 l5.5,-1.3 l0,2.6 Z" fill="#222"/>
<g transform="translate(569.5,515.2) scale(0.92,1)"><text x="0" y="0" font-size="9.2" font-family="Liberation Serif, serif" fill="#222" stroke="#222" stroke-width="0.2" >M16</text></g>
<line x1="553.9" y1="510.7" x2="553.9" y2="526.3" stroke="#444" stroke-width="0.8"/>
<line x1="658.5" y1="510.7" x2="658.5" y2="526.3" stroke="#444" stroke-width="0.8"/>
<line x1="553.9" y1="524.8" x2="658.5" y2="524.8" stroke="#444" stroke-width="0.9"/>
<path d="M553.9,524.8 l6,-1.3 l0,2.6 Z M658.5,524.8 l-6,-1.3 l0,2.6 Z" fill="#222"/>
<g transform="translate(600.1,523) scale(0.95,1)"><text x="0" y="0" font-size="9.4" font-family="Liberation Serif, serif" fill="#222" stroke="#222" stroke-width="0.2" >190</text></g>
<line x1="530.9" y1="541.3" x2="536.5" y2="541.3" stroke="#1a1a1a" stroke-width="1"/>
<line x1="552" y1="541.3" x2="557.6" y2="541.3" stroke="#1a1a1a" stroke-width="1"/>
<path d="M561.4,537 h7 M561.4,545.1 h7 M563.3,537 v8.1 M566.5,537 v8.1" stroke="#111" stroke-width="1.15" fill="none"/>
<line x1="572.4" y1="541.3" x2="578" y2="541.3" stroke="#1a1a1a" stroke-width="1"/>
<g transform="translate(0,545.6) scale(0.8,1)"><text x="629.25 638.25 646.38 655.12 671.5 680.5 724.25 733.38 742.25 749.38" y="0" font-size="12.6" font-family="Liberation Serif, serif" fill="#111" stroke="#111" stroke-width="0.45">PB34DC400A</text></g>
<line x1="553.9" y1="490.5" x2="553.9" y2="527" stroke="#E03030" stroke-width="0.7" stroke-dasharray="8 2 2 2"/>
<line x1="658.5" y1="490.5" x2="658.5" y2="527" stroke="#E03030" stroke-width="0.7" stroke-dasharray="8 2 2 2"/>
</svg>
</body></html>
